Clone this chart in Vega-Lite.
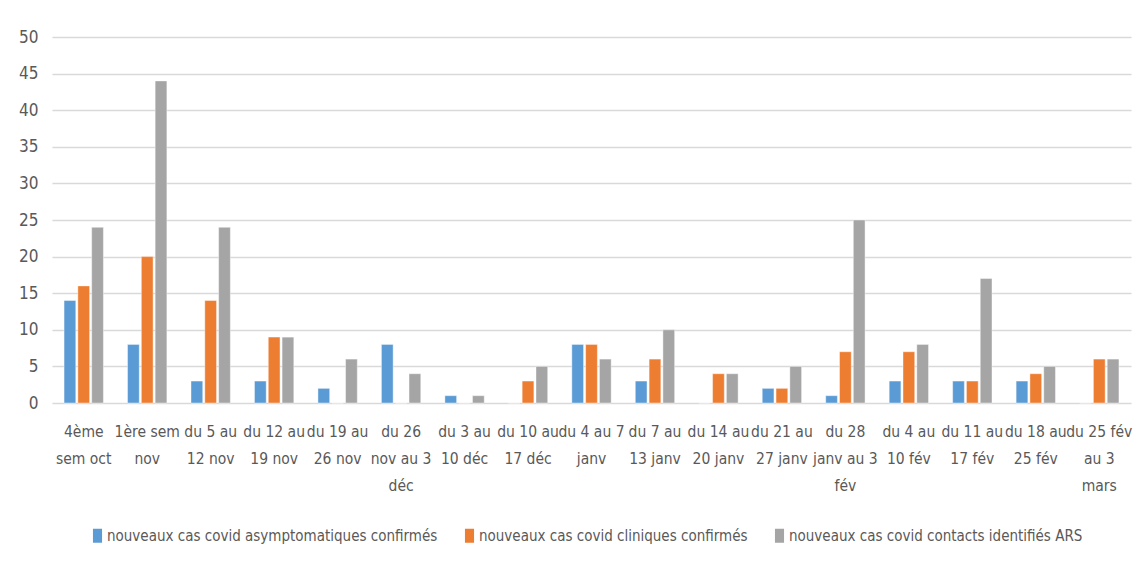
{
  "$schema": "https://vega.github.io/schema/vega-lite/v6.json",
  "width": 1079,
  "height": 366,
  "autosize": "none",
  "padding": {"left": 52, "top": 37, "right": 5, "bottom": 162},
  "background": "white",
  "config": {
    "font": "Liberation Sans Narrow, DejaVu Sans Condensed, sans-serif",
    "view": {"stroke": null}
  },
  "data": {
    "values": [
      {"semaine": "4ème sem oct", "serie": "nouveaux cas covid asymptomatiques confirmés", "cas": 14},
      {"semaine": "4ème sem oct", "serie": "nouveaux cas covid cliniques confirmés", "cas": 16},
      {"semaine": "4ème sem oct", "serie": "nouveaux cas covid contacts identifiés ARS", "cas": 24},
      {"semaine": "1ère sem nov", "serie": "nouveaux cas covid asymptomatiques confirmés", "cas": 8},
      {"semaine": "1ère sem nov", "serie": "nouveaux cas covid cliniques confirmés", "cas": 20},
      {"semaine": "1ère sem nov", "serie": "nouveaux cas covid contacts identifiés ARS", "cas": 44},
      {"semaine": "du 5 au 12 nov", "serie": "nouveaux cas covid asymptomatiques confirmés", "cas": 3},
      {"semaine": "du 5 au 12 nov", "serie": "nouveaux cas covid cliniques confirmés", "cas": 14},
      {"semaine": "du 5 au 12 nov", "serie": "nouveaux cas covid contacts identifiés ARS", "cas": 24},
      {"semaine": "du 12 au 19 nov", "serie": "nouveaux cas covid asymptomatiques confirmés", "cas": 3},
      {"semaine": "du 12 au 19 nov", "serie": "nouveaux cas covid cliniques confirmés", "cas": 9},
      {"semaine": "du 12 au 19 nov", "serie": "nouveaux cas covid contacts identifiés ARS", "cas": 9},
      {"semaine": "du 19 au 26 nov", "serie": "nouveaux cas covid asymptomatiques confirmés", "cas": 2},
      {"semaine": "du 19 au 26 nov", "serie": "nouveaux cas covid cliniques confirmés", "cas": 0},
      {"semaine": "du 19 au 26 nov", "serie": "nouveaux cas covid contacts identifiés ARS", "cas": 6},
      {"semaine": "du 26 nov au 3 déc", "serie": "nouveaux cas covid asymptomatiques confirmés", "cas": 8},
      {"semaine": "du 26 nov au 3 déc", "serie": "nouveaux cas covid cliniques confirmés", "cas": 0},
      {"semaine": "du 26 nov au 3 déc", "serie": "nouveaux cas covid contacts identifiés ARS", "cas": 4},
      {"semaine": "du 3 au 10 déc", "serie": "nouveaux cas covid asymptomatiques confirmés", "cas": 1},
      {"semaine": "du 3 au 10 déc", "serie": "nouveaux cas covid cliniques confirmés", "cas": 0},
      {"semaine": "du 3 au 10 déc", "serie": "nouveaux cas covid contacts identifiés ARS", "cas": 1},
      {"semaine": "du 10 au 17 déc", "serie": "nouveaux cas covid asymptomatiques confirmés", "cas": 0},
      {"semaine": "du 10 au 17 déc", "serie": "nouveaux cas covid cliniques confirmés", "cas": 3},
      {"semaine": "du 10 au 17 déc", "serie": "nouveaux cas covid contacts identifiés ARS", "cas": 5},
      {"semaine": "du 4 au 7 janv", "serie": "nouveaux cas covid asymptomatiques confirmés", "cas": 8},
      {"semaine": "du 4 au 7 janv", "serie": "nouveaux cas covid cliniques confirmés", "cas": 8},
      {"semaine": "du 4 au 7 janv", "serie": "nouveaux cas covid contacts identifiés ARS", "cas": 6},
      {"semaine": "du 7 au 13 janv", "serie": "nouveaux cas covid asymptomatiques confirmés", "cas": 3},
      {"semaine": "du 7 au 13 janv", "serie": "nouveaux cas covid cliniques confirmés", "cas": 6},
      {"semaine": "du 7 au 13 janv", "serie": "nouveaux cas covid contacts identifiés ARS", "cas": 10},
      {"semaine": "du 14 au 20 janv", "serie": "nouveaux cas covid asymptomatiques confirmés", "cas": 0},
      {"semaine": "du 14 au 20 janv", "serie": "nouveaux cas covid cliniques confirmés", "cas": 4},
      {"semaine": "du 14 au 20 janv", "serie": "nouveaux cas covid contacts identifiés ARS", "cas": 4},
      {"semaine": "du 21 au 27 janv", "serie": "nouveaux cas covid asymptomatiques confirmés", "cas": 2},
      {"semaine": "du 21 au 27 janv", "serie": "nouveaux cas covid cliniques confirmés", "cas": 2},
      {"semaine": "du 21 au 27 janv", "serie": "nouveaux cas covid contacts identifiés ARS", "cas": 5},
      {"semaine": "du 28 janv au 3 fév", "serie": "nouveaux cas covid asymptomatiques confirmés", "cas": 1},
      {"semaine": "du 28 janv au 3 fév", "serie": "nouveaux cas covid cliniques confirmés", "cas": 7},
      {"semaine": "du 28 janv au 3 fév", "serie": "nouveaux cas covid contacts identifiés ARS", "cas": 25},
      {"semaine": "du 4 au 10 fév", "serie": "nouveaux cas covid asymptomatiques confirmés", "cas": 3},
      {"semaine": "du 4 au 10 fév", "serie": "nouveaux cas covid cliniques confirmés", "cas": 7},
      {"semaine": "du 4 au 10 fév", "serie": "nouveaux cas covid contacts identifiés ARS", "cas": 8},
      {"semaine": "du 11 au 17 fév", "serie": "nouveaux cas covid asymptomatiques confirmés", "cas": 3},
      {"semaine": "du 11 au 17 fév", "serie": "nouveaux cas covid cliniques confirmés", "cas": 3},
      {"semaine": "du 11 au 17 fév", "serie": "nouveaux cas covid contacts identifiés ARS", "cas": 17},
      {"semaine": "du 18 au 25 fév", "serie": "nouveaux cas covid asymptomatiques confirmés", "cas": 3},
      {"semaine": "du 18 au 25 fév", "serie": "nouveaux cas covid cliniques confirmés", "cas": 4},
      {"semaine": "du 18 au 25 fév", "serie": "nouveaux cas covid contacts identifiés ARS", "cas": 5},
      {"semaine": "du 25 fév au 3 mars", "serie": "nouveaux cas covid asymptomatiques confirmés", "cas": 0},
      {"semaine": "du 25 fév au 3 mars", "serie": "nouveaux cas covid cliniques confirmés", "cas": 6},
      {"semaine": "du 25 fév au 3 mars", "serie": "nouveaux cas covid contacts identifiés ARS", "cas": 6}
    ]
  },
  "mark": {"type": "bar", "stroke": "white", "strokeWidth": 0.6, "strokeOpacity": 0.7},
  "encoding": {
    "x": {
      "field": "semaine",
      "type": "nominal",
      "sort": null,
      "scale": {"paddingInner": 0.38, "paddingOuter": 0.19},
      "axis": {
        "title": null,
        "labelAngle": 0,
        "domain": false,
        "ticks": false,
        "labelOverlap": false,
        "labelBound": false,
        "labelFontSize": 15.5,
        "labelColor": "#595959",
        "labelPadding": 28,
        "labelBaseline": "middle",
        "labelLineHeight": 27,
        "labelLimit": 200,
        "labelExpr": "{'4ème sem oct':['4ème','sem oct'],'1ère sem nov':['1ère sem','nov'],'du 5 au 12 nov':['du 5 au','12 nov'],'du 12 au 19 nov':['du 12 au','19 nov'],'du 19 au 26 nov':['du 19 au','26 nov'],'du 26 nov au 3 déc':['du 26','nov au 3','déc'],'du 3 au 10 déc':['du 3 au','10 déc'],'du 10 au 17 déc':['du 10 au','17 déc'],'du 4 au 7 janv':['du 4 au 7','janv'],'du 7 au 13 janv':['du 7 au','13 janv'],'du 14 au 20 janv':['du 14 au','20 janv'],'du 21 au 27 janv':['du 21 au','27 janv'],'du 28 janv au 3 fév':['du 28','janv au 3','fév'],'du 4 au 10 fév':['du 4 au','10 fév'],'du 11 au 17 fév':['du 11 au','17 fév'],'du 18 au 25 fév':['du 18 au','25 fév'],'du 25 fév au 3 mars':['du 25 fév','au 3','mars']}[datum.label]"
      }
    },
    "xOffset": {
      "field": "serie",
      "type": "nominal",
      "sort": null,
      "scale": {"paddingInner": 0.15, "paddingOuter": 0}
    },
    "y": {
      "field": "cas",
      "type": "quantitative",
      "scale": {"domain": [0, 50], "nice": false},
      "axis": {
        "title": null,
        "values": [0, 5, 10, 15, 20, 25, 30, 35, 40, 45, 50],
        "domain": false,
        "ticks": false,
        "gridColor": "#d9d9d9",
        "gridWidth": 1.5,
        "labelFontSize": 17,
        "labelColor": "#595959",
        "labelPadding": 14
      }
    },
    "color": {
      "field": "serie",
      "type": "nominal",
      "sort": null,
      "scale": {
        "domain": ["nouveaux cas covid asymptomatiques confirmés", "nouveaux cas covid cliniques confirmés", "nouveaux cas covid contacts identifiés ARS"],
        "range": ["#5B9BD5", "#ED7D31", "#A5A5A5"]
      },
      "legend": {
        "title": null,
        "orient": "none",
        "direction": "horizontal",
        "legendX": 38,
        "legendY": 491,
        "symbolType": "M-0.65,-1H0.65V1H-0.65Z",
        "symbolSize": 196,
        "symbolStrokeWidth": 0,
        "symbolOpacity": 1,
        "labelFontSize": 15,
        "labelColor": "#595959",
        "labelOffset": 2,
        "columnPadding": 24,
        "labelLimit": 400
      }
    }
  }
}
